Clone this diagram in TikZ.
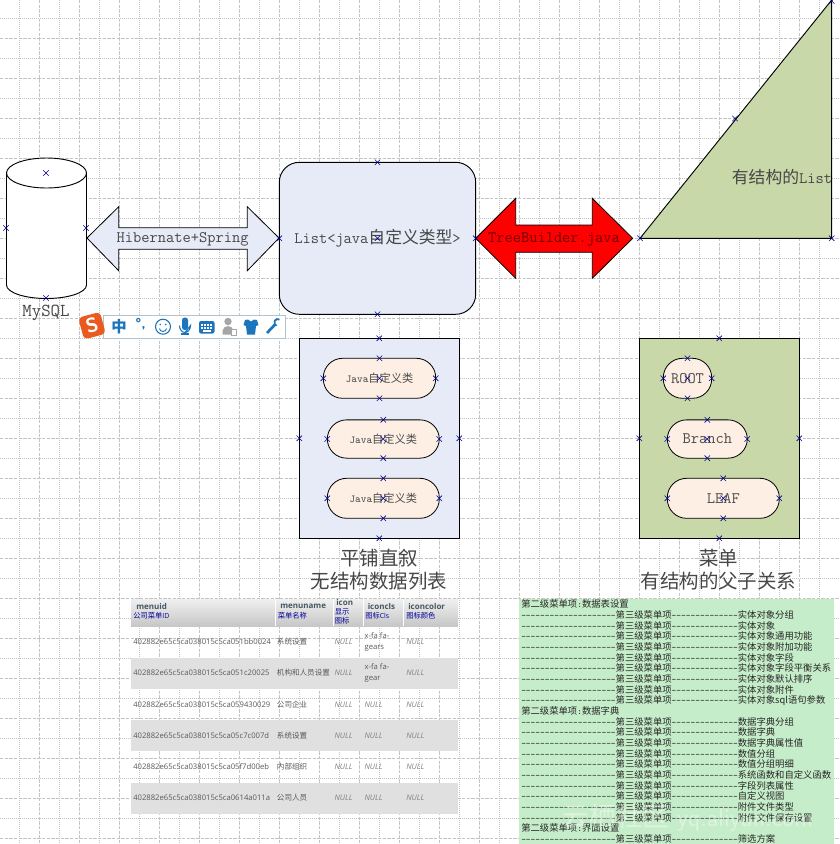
\documentclass[tikz,border=0pt]{standalone}
\usepackage{fontspec}
\usetikzlibrary{shapes.misc}
\newfontfamily\cjk[Scale=1.05]{Noto Sans CJK SC}
\newfontfamily\tblfont{Open Sans}
\definecolor{paleblue}{HTML}{E6EBF7}
\definecolor{palegreen}{HTML}{C8D8A8}
\definecolor{peach}{HTML}{FDEFE4}
\definecolor{mint}{HTML}{C6EDC9}
\definecolor{rowgray}{HTML}{E0E0E0}
\definecolor{imeblue}{HTML}{1B75BC}
\definecolor{imeorange}{HTML}{EA5A1E}
\definecolor{imeedge}{HTML}{B5C2CF}
\definecolor{gridgray}{HTML}{C4C4C4}
\newcommand\zh[1]{{\cjk #1}}
\newcommand\dashlong{--------------------}
\newcommand\dashshort{--------------}
\tikzset{
	cpt/.style = {cross out, draw = blue!55!black, line width = 0.45pt, inner sep = 0pt, minimum size = 3.6pt},
	griddash/.style = {gridgray, line width = 0.7pt, dash pattern = on 2.6pt off 0.9pt},
	griddot/.style = {gridgray, line width = 0.7pt, dash pattern = on 0.75pt off 0.75pt},
	sized/.style 2 args = {minimum width = #1*0.75pt, minimum height = #2*0.75pt, inner sep = 0pt, outer sep = 0pt},
	panel/.style 2 args = {draw, line width = 0.7pt, sized = {#1}{#2}},
	pill/.style 2 args = {draw, line width = 0.6pt, fill = peach, rounded corners = 14.5pt, sized = {#1}{#2}, text = black!70},
	label/.style = {inner sep = 0pt, text = black!72, font = \fontsize{12}{14}\ttfamily},
	caption/.style = {inner sep = 0pt, text = black!72, font = \fontsize{13.9}{17}\ttfamily},
	hcell/.style = {anchor = west, inner sep = 0pt, text = blue!60!black, font = \fontsize{5.2}{6}\tblfont},
	hname/.style = {anchor = west, inner sep = 0pt, text = cyan!30!black, font = \fontsize{6}{7}\tblfont\bfseries},
	cell/.style = {anchor = west, inner sep = 0pt, align = left, text = black!65, font = \fontsize{5.75}{8.4}\tblfont},
	nullcell/.style = {anchor = west, inner sep = 0pt, text = black!50, font = \fontsize{5.75}{7}\tblfont\itshape},
	menurow/.style = {anchor = west, inner sep = 0pt, text = black!85, font = \fontsize{6.67}{8}\ttfamily},
	imeicon/.style = {inner sep = 0pt, text = imeblue}
}
\begin{document}
\begin{tikzpicture}[x = 0.75pt, y = -0.75pt]
	\path [use as bounding box, clip] (0,0) rectangle (840,844);
	\fill [white] (0,0) rectangle (840,844);

	\foreach \x in {39.5,79.5,...,839}{
			\draw [griddash](\x,0)--(\x,844);
		}
	\foreach \x in {19.5,59.5,...,839}{
			\draw [griddot](\x,0)--(\x,844);
		}
	\foreach \y in {38,78,...,844}{
			\draw [griddash](0,\y)--(840,\y);
		}
	\foreach \y in {18,58,...,844}{
			\draw [griddot](0,\y)--(840,\y);
		}

	\draw [fill = white, line width = 0.7pt] (6.5,173)--(6.5,285) arc [start angle = 180, end angle = 0, x radius = 40, y radius = 13.5]--(86.5,173);
	\draw [fill = white, line width = 0.7pt] (46.5,173) ellipse [x radius = 40, y radius = 15];
	\node [label, font = \fontsize{13.7}{16}\ttfamily] (mysql) at (46,313) {MySQL};

	\draw [fill = paleblue, line width = 0.6pt] (87,238)--(118.7,206.7)--(118.7,227.7)--(247.3,227.7)--(247.3,206.7)--(279,238)--(247.3,270.7)--(247.3,249.3)--(118.7,249.3)--(118.7,270.7)--cycle;
	\node [label] (orm) at (182.6,239.5) {Hibernate+Spring};

	\draw [fill = red, line width = 0.6pt] (475.7,238.3)--(515.7,198.3)--(515.7,225)--(592.3,225)--(592.3,198.3)--(632.7,238.3)--(592.3,278.3)--(592.3,252.3)--(515.7,252.3)--(515.7,278.3)--cycle;
	\node [label, text = red!45!black] (builder) at (554,239) {TreeBuilder.java};

	\node [panel = {196.4}{152}, fill = paleblue, rounded corners = 15pt, text = black!72, font = \fontsize{12}{14}\ttfamily] (flatlist) at (377.5,238.3) {List<java\zh{自定义类型}>};

	\draw [fill = palegreen, line width = 0.7pt] (640,238.3)--(831.7,238.3)--(831.7,0)--cycle;
	\node [label] (treelist) at (782,177) {\zh{有结构的}List};

	\node [panel = {160}{200}, fill = paleblue] (flatbox) at (379.3,438.3) {};
	\node [panel = {160}{200}, fill = palegreen] (treebox) at (719.3,438.3) {};

	\node [pill = {112.4}{40}, font = \fontsize{8}{10}\ttfamily] (javaa) at (379.5,378.3) {Java\zh{自定义类}};
	\node [pill = {112}{38.3}, font = \fontsize{8}{10}\ttfamily] (javab) at (383.3,439) {Java\zh{自定义类}};
	\node [pill = {112}{40}, font = \fontsize{8}{10}\ttfamily] (javac) at (383.3,498.3) {Java\zh{自定义类}};
	\node [pill = {48.4}{40}, font = \fontsize{12}{14}\ttfamily] (root) at (687.5,378.3) {ROOT};
	\node [pill = {80}{38.3}, font = \fontsize{12}{14}\ttfamily] (branch) at (707.3,439) {Branch};
	\node [pill = {112}{40}, font = \fontsize{12}{14}\ttfamily] (leaf) at (723.3,498.3) {LEAF};

	\foreach \n in {javaa,javab,javac,root,branch,leaf,flatlist}{
			\foreach \a in {north,south,east,west,center}{
					\node [cpt] (\n-\a) at (\n.\a) {};
				}
		}
	\foreach \n in {flatbox,treebox}{
			\foreach \a in {north,south,east,west}{
					\node [cpt] (\n-\a) at (\n.\a) {};
				}
		}
	\foreach \n/\x/\y in {cyla/46/173,cylb/46/298,cylc/6/228,cyld/86/228,tria/640/238.3,trib/831.7/238.3,tric/735/118.5,trid/831.7/1}{
			\node [cpt] (\n) at (\x,\y) {};
		}

	\node [caption] (flatcapa) at (379,558) {\zh{平铺直叙}};
	\node [caption] (flatcapb) at (379,581.5) {\zh{无结构数据列表}};
	\node [caption] (treecapa) at (718.5,558) {\zh{菜单}};
	\node [caption] (treecapb) at (718.5,581.5) {\zh{有结构的父子关系}};

	% input method bar
	\draw [fill = white, draw = imeedge, line width = 0.6pt] (103,315.7) rectangle (285,338.3);
	\node [rotate = 15, fill = imeorange, rounded corners = 3pt, sized = {22.5}{22.5}, text = white, font = \fontsize{15}{15}\sffamily\bfseries] (imelogo) at (92,325.7) {S};
	\node [imeicon, font = \fontsize{11}{12}\cjk\bfseries] (imelang) at (119,326.7) {中};
	\node [imeicon, font = \fontsize{11}{12}\sffamily\bfseries] (imepunct) at (140.7,324) {°,};
	\draw [imeblue, line width = 0.8pt, fill = white] (163,326.7) circle (7.5);
	\fill [imeblue] (160.3,324.5) circle (0.9) (165.7,324.5) circle (0.9);
	\draw [imeblue, line width = 0.7pt] (159.5,328.5) arc [start angle = 180, end angle = 0, x radius = 3.5, y radius = 3];
	\fill [imeblue, rounded corners = 2pt] (182,317.5) rectangle (188,330);
	\draw [imeblue, line width = 0.8pt] (179.5,325.5) arc [start angle = 180, end angle = 0, x radius = 5.5, y radius = 7]--(185,332.5);
	\fill [imeblue] (181,333) rectangle (189,335);
	\fill [imeblue, rounded corners = 1.5pt] (199,321) rectangle (214.5,333.5);
	\foreach \x in {201,204,...,211}{
			\fill [white] (\x,323.5) rectangle ++(2,2);
			\fill [white] (\x,326.5) rectangle ++(2,2);
		}
	\fill [white] (203,330) rectangle (211,331.5);
	\fill [black!35] (228,321.5) circle (3.7);
	\fill [black!35] (222.5,334.5)--(222.5,331) arc [start angle = 180, end angle = 360, x radius = 5.5, y radius = 5]--(233.5,334.5)--cycle;
	\draw [black!35, fill = white, line width = 0.5pt] (231,329.5) rectangle (236.5,335);
	\fill [imeblue] (248,319.5)--(245,320)--(243.5,325)--(246,326)--(247,334.5)--(255,334.5)--(256,326)--(258.5,325)--(257,320)--(254,319.5)--(251,321.5)--cycle;
	\draw [imeblue, line width = 2pt] (267,333)--(275.5,324);
	\draw [imeblue, line width = 1.4pt] (279.5,319.5) arc [start angle = -60, end angle = -250, radius = 3.5];

	% flat table
	\shade [top color = black!6, bottom color = black!22] (131,599) rectangle (458,626);
	\foreach \y in {657.7,720,782.7}{
			\fill [rowgray] (131,\y) rectangle ++(327,31);
		}
	\foreach \x in {275,333.3,363.3,403.3}{
			\draw [white, line width = 0.5pt](\x,599)--(\x,626);
		}
	\node [hname] (hid) at (136,606.5) {menuid};
	\node [hcell] (hidcn) at (133,615.8) {\zh{公司菜单}ID};
	\node [hname] (hname) at (280,606.5) {menuname};
	\node [hcell] (hnamecn) at (277.5,615.8) {\zh{菜单名称}};
	\node [hname] (hicon) at (336,602) {icon};
	\node [hcell] (hicona) at (334.5,611.5) {\zh{显示}};
	\node [hcell] (hiconb) at (334.5,621) {\zh{图标}};
	\node [hname] (hcls) at (367.5,606.5) {iconcls};
	\node [hcell] (hclscn) at (365,615.8) {\zh{图标}Cls};
	\node [hname] (hcolor) at (408,606.5) {iconcolor};
	\node [hcell] (hcolorcn) at (406,615.8) {\zh{图标颜色}};
	\foreach \r/\y/\u/\m in {a/642/051bb0024/系统设置,b/673/051c20025/机构和人员设置,c/704.5/059430029/公司企业,d/735.5/05c7c007d/系统设置,e/767/05f7d00eb/内部组织,f/798/0614a011a/公司人员}{
			\node [cell] (uid\r) at (133,\y) {402882e65c5ca038015c5ca\u};
			\node [cell] (mname\r) at (276.7,\y) {\fontsize{5.4}{7}\selectfont\zh{\m}};
			\node [nullcell] (nicon\r) at (334.3,\y) {NULL};
			\node [nullcell] (ncolor\r) at (406,\y) {NULL};
		}
	\node [cell] (clsa) at (364.3,642) {x-fa fa-\\gears};
	\node [cell] (clsb) at (364.3,673) {x-fa fa-\\gear};
	\foreach \r/\y in {c/704.5,d/735.5,e/767,f/798}{
			\node [nullcell] (ncls\r) at (364.3,\y) {NULL};
		}

	% menu listing
	\fill [mint] (519,599) rectangle (834,844);
	\foreach \r/\t in {0/数据表设置,10/数据字典,21/界面设置}{
			\node [menurow] (sec\r) at (521,{604.3+10.67*\r}) {\zh{第二级菜单项}:\zh{\t}};
		}
	\foreach \r/\t in {1/实体对象分组,2/实体对象,3/实体对象通用功能,4/实体对象附加功能,5/实体对象字段,6/实体对象字段平衡关系,7/实体对象默认排序,8/实体对象附件,9/实体对象sql语句参数,11/数据字典分组,12/数据字典,13/数据字典属性值,14/数值分组,15/数值分组明细,16/系统函数和自定义函数,17/字段列表属性,18/自定义视图,19/附件文件类型,20/附件文件保存设置,22/筛选方案}{
			\node [menurow] (item\r) at (521,{604.3+10.67*\r}) {\dashlong\zh{第三级菜单项}\dashshort\zh{\t}};
		}
	\node [inner sep = 0pt, text = white, opacity = 0.4, font = \fontsize{19}{22}\sffamily] (wmark) at (688,818) {\zh{云栖社区} yq.aliyun.com};
\end{tikzpicture}
\end{document}
